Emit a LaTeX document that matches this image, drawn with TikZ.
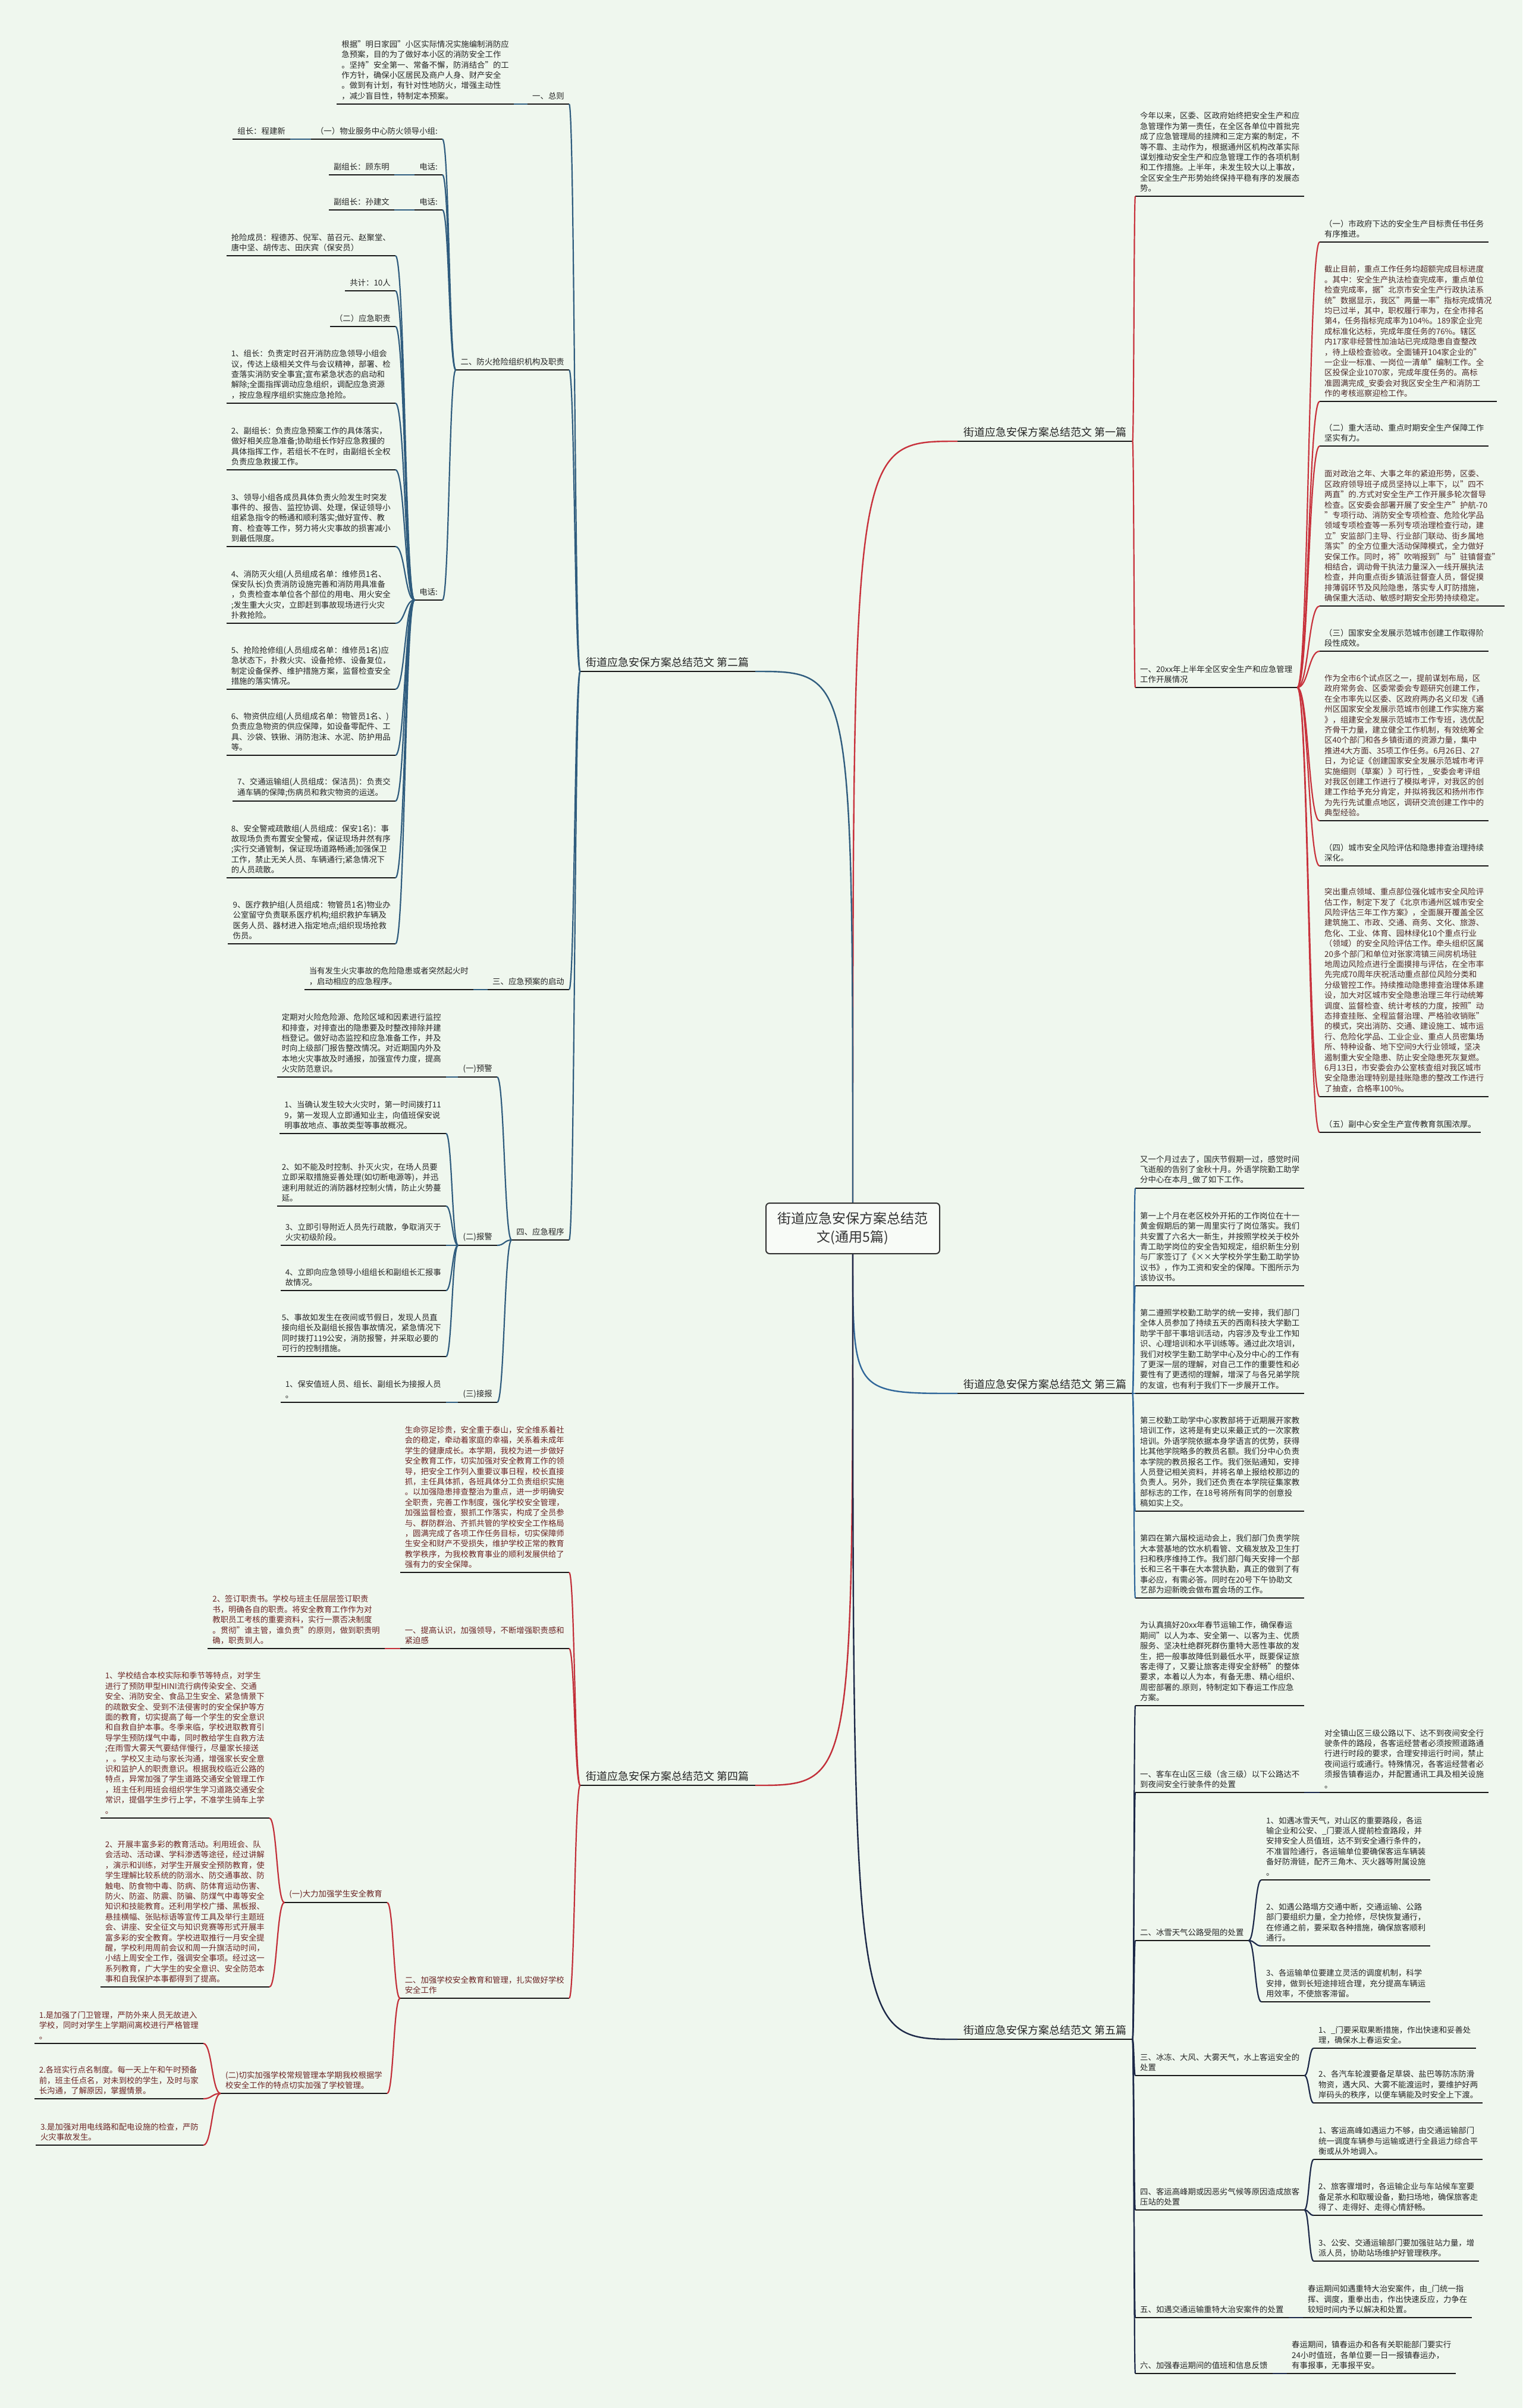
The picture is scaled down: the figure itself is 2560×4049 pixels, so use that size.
\documentclass[tikz,border=0pt]{standalone}
\usepackage{fontspec}
\setmainfont{Noto Sans CJK SC}
\usepackage{tikz}
\usepackage{xcolor}
\usetikzlibrary{calc}
\definecolor{paper}{HTML}{EFF7EE}
\definecolor{ink}{HTML}{262626}
\definecolor{maroon}{HTML}{6B2424}
\definecolor{brownish}{HTML}{4E2A2A}
\definecolor{lnkA}{HTML}{C8323C}
\definecolor{lnkB}{HTML}{2F5C7E}
\definecolor{lnkC}{HTML}{30679A}
\definecolor{lnkD}{HTML}{C22F39}
\definecolor{lnkE}{HTML}{1C2848}
\newcommand{\bodyFont}{\fontsize{13.4pt}{17.4pt}\selectfont}
\newcommand{\branchFont}{\fontsize{18pt}{22pt}\selectfont}
\newcommand{\rootFont}{\fontsize{23pt}{31pt}\selectfont}
\tikzset{
  underLine/.style = {draw=black!90, line width=2.6pt},
  leaf/.style = {font=\bodyFont, align=left, inner xsep=8pt, inner ysep=7pt, text=ink,
    append after command={(\tikzlastnode.south west) edge[underLine] (\tikzlastnode.south east)}},
  leafL/.style = {leaf, anchor=south east},
  leafR/.style = {leaf, anchor=south west},
  redText/.style = {text=maroon},
  brownText/.style = {text=brownish},
  branchL/.style = {leafL, font=\branchFont, inner xsep=10pt},
  branchR/.style = {leafR, font=\branchFont, inner xsep=10pt},
  rootBox/.style = {rectangle, rounded corners=6pt, draw=black!80, line width=2pt,
    fill=white!55!paper, minimum width=292pt, minimum height=85pt,
    align=center, font=\rootFont, text=black!80},
  curve/.style = {line width=2.2pt, line join=round,
    to path={let \p1=(\tikztostart), \p2=(\tikztotarget) in
      .. controls ({0.5*(\x1+\x2)},\y1) and ({0.5*(\x1+\x2)},\y2) .. (\tikztotarget)}},
  elbow/.style = {line width=2.4pt,
    to path={let \p1=(\tikztostart), \p2=(\tikztotarget) in
      .. controls (\x1,\y2) and (\x1,\y2) .. (\tikztotarget)}},
  linkA/.style = {curve, draw=lnkA},
  linkB/.style = {curve, draw=lnkB},
  linkC/.style = {curve, draw=lnkC},
  linkD/.style = {curve, draw=lnkD},
  linkE/.style = {curve, draw=lnkE},
}

\begin{document}
\begin{tikzpicture}[x=1pt, y=-1pt]
\fill[paper] (0,0) rectangle (2560,4049);
\useasboundingbox (0,0) rectangle (2560,4049);

% centre
\node[branchR] (b1) at (1610,742) {街道应急安保方案总结范文 第一篇};
\node[branchL] (b2) at (1270,1129) {街道应急安保方案总结范文 第二篇};
\node[branchR] (b3) at (1610,2343) {街道应急安保方案总结范文 第三篇};
\node[branchL] (b4) at (1270,3002) {街道应急安保方案总结范文 第四篇};
\node[branchR] (b5) at (1610,3429) {街道应急安保方案总结范文 第五篇};
\coordinate (rootTop) at (1434,2023);
\coordinate (rootBot) at (1434,2108);

\draw[elbow, draw=lnkA] (rootTop) to (b1.south west);
\draw[elbow, draw=lnkB] (rootTop) to (b2.south east);
\draw[elbow, draw=lnkC] (rootBot) to (b3.south west);
\draw[elbow, draw=lnkD] (rootBot) to (b4.south east);
\draw[elbow, draw=lnkE] (rootBot) to (b5.south west);
\node[rootBox] (root) at (1434,2065.5) {街道应急安保方案总结范\\文(通用5篇)};

% second article
\node[leafL] (t1) at (957,175) {一、总则};
\node[leafL] (t1a) at (864,175) {根据"明日家园"小区实际情况实施编制消防应\\急预案，目的为了做好本小区的消防安全工作\\。坚持"安全第一、常备不懈，防消结合"的工\\作方针，确保小区居民及商户人身、财产安全\\。做到有计划，有针对性地防火，增强主动性\\，减少盲目性，特制定本预案。};
\node[leafL] (t2) at (957,622) {二、防火抢险组织机构及职责};
\node[leafL] (t2a) at (744,234) {（一）物业服务中心防火领导小组:};
\node[leafL] (t2a1) at (488,234) {组长：程建新};
\node[leafL] (t2b) at (744,294) {电话:};
\node[leafL] (t2b1) at (663,294) {副组长：顾东明};
\node[leafL] (t2c) at (744,353) {电话:};
\node[leafL] (t2c1) at (663,353) {副组长：孙建文};
\node[leafL] (t2d) at (744,1009) {电话:};
\node[leafL] (m0) at (665,430) {抢险成员：程德苏、倪军、苗召元、赵聚堂、\\唐中坚、胡传志、田庆宾（保安员）};
\node[leafL] (m1) at (665,489) {共计：10人};
\node[leafL] (m2) at (665,549) {（二）应急职责};
\node[leafL] (m3) at (665,678) {1、组长：负责定时召开消防应急领导小组会\\议，传达上级相关文件与会议精神，部署、检\\查落实消防安全事宜;宣布紧急状态的启动和\\解除;全面指挥调动应急组织，调配应急资源\\，按应急程序组织实施应急抢险。};
\node[leafL] (m4) at (665,790) {2、副组长：负责应急预案工作的具体落实，\\做好相关应急准备;协助组长作好应急救援的\\具体指挥工作，若组长不在时，由副组长全权\\负责应急救援工作。};
\node[leafL] (m5) at (665,919) {3、领导小组各成员具体负责火险发生时突发\\事件的、报告、监控协调、处理，保证领导小\\组紧急指令的畅通和顺利落实;做好宣传、教\\育、检查等工作，努力将火灾事故的损害减小\\到最低限度。};
\node[leafL] (m6) at (665,1048) {4、消防灭火组(人员组成名单：维修员1名、\\保安队长)负责消防设施完善和消防用具准备\\，负责检查本单位各个部位的用电、用火安全\\;发生重大火灾，立即赶到事故现场进行火灾\\扑救抢险。};
\node[leafL] (m7) at (665,1159) {5、抢险抢修组(人员组成名单：维修员1名)应\\急状态下，扑救火灾、设备抢修、设备复位，\\制定设备保养、维护措施方案，监督检查安全\\措施的落实情况。};
\node[leafL] (m8) at (665,1270) {6、物资供应组(人员组成名单：物管员1名、)\\负责应急物资的供应保障，如设备零配件、工\\具、沙袋、铁锹、消防泡沫、水泥、防护用品\\等。};
\node[leafL] (m9) at (665,1347) {7、交通运输组(人员组成：保洁员)：负责交\\通车辆的保障;伤病员和救灾物资的运送。};
\node[leafL] (m10) at (665,1476) {8、安全警戒疏散组(人员组成：保安1名)：事\\故现场负责布置安全警戒，保证现场井然有序\\;实行交通管制，保证现场道路畅通;加强保卫\\工作，禁止无关人员、车辆通行;紧急情况下\\的人员疏散。};
\node[leafL] (m11) at (665,1587) {9、医疗救护组(人员组成：物管员1名)物业办\\公室留守负责联系医疗机构;组织救护车辆及\\医务人员、器材进入指定地点;组织现场抢救\\伤员。};
\node[leafL] (t3) at (957,1664) {三、应急预案的启动};
\node[leafL] (t3a) at (796,1664) {当有发生火灾事故的危险隐患或者突然起火时\\，启动相应的应急程序。};
\node[leafL] (t4) at (957,2085) {四、应急程序};
\node[leafL] (t4a) at (836,1811) {(一)预警};
\node[leafL] (t4a1) at (750,1811) {定期对火险危险源、危险区域和因素进行监控\\和排查，对排查出的隐患要及时整改排除并建\\档登记。做好动态监控和应急准备工作，并及\\时向上级部门报告整改情况。对近期国内外及\\本地火灾事故及时通报，加强宣传力度，提高\\火灾防范意识。};
\node[leafL] (t4b) at (836,2094) {(二)报警};
\node[leafL] (r1) at (750,1906) {1、当确认发生较大火灾时，第一时间拨打11\\9，第一发现人立即通知业主，向值班保安说\\明事故地点、事故类型等事故概况。};
\node[leafL] (r2) at (750,2028) {2、如不能及时控制、扑灭火灾，在场人员要\\立即采取措施妥善处理(如切断电源等)，并迅\\速利用就近的消防器材控制火情，防止火势蔓\\延。};
\node[leafL] (r3) at (750,2094) {3、立即引导附近人员先行疏散，争取消灭于\\火灾初级阶段。};
\node[leafL] (r4) at (750,2170) {4、立即向应急领导小组组长和副组长汇报事\\故情况。};
\node[leafL] (r5) at (750,2281) {5、事故如发生在夜间或节假日，发现人员直\\接向组长及副组长报告事故情况，紧急情况下\\同时拨打119公安，消防报警，并采取必要的\\可行的控制措施。};
\node[leafL] (t4c) at (836,2358) {(三)接报};
\node[leafL] (t4c1) at (750,2358) {1、保安值班人员、组长、副组长为接报人员\\。};

\draw[linkB] (b2.south west) to (t1.south east);
\draw[linkB] (b2.south west) to (t2.south east);
\draw[linkB] (b2.south west) to (t3.south east);
\draw[linkB] (b2.south west) to (t4.south east);
\draw[linkB] (t1.south west) to (t1a.south east);
\draw[linkB] (t2.south west) to (t2a.south east);
\draw[linkB] (t2.south west) to (t2b.south east);
\draw[linkB] (t2.south west) to (t2c.south east);
\draw[linkB] (t2.south west) to (t2d.south east);
\draw[linkB] (t2a.south west) to (t2a1.south east);
\draw[linkB] (t2b.south west) to (t2b1.south east);
\draw[linkB] (t2c.south west) to (t2c1.south east);
\foreach \kid in {m0,m1,m2,m3,m4,m5,m6,m7,m8,m9,m10,m11}
  \draw[linkB] (t2d.south west) to (\kid.south east);
\draw[linkB] (t3.south west) to (t3a.south east);
\draw[linkB] (t4.south west) to (t4a.south east);
\draw[linkB] (t4.south west) to (t4b.south east);
\draw[linkB] (t4.south west) to (t4c.south east);
\draw[linkB] (t4a.south west) to (t4a1.south east);
\foreach \kid in {r1,r2,r3,r4,r5}
  \draw[linkB] (t4b.south west) to (\kid.south east);
\draw[linkB] (t4c.south west) to (t4c1.south east);

% fourth article
\node[leafL, redText] (d0) at (957,2644) {生命弥足珍贵，安全重于泰山，安全维系着社\\会的稳定，牵动着家庭的幸福，关系着未成年\\学生的健康成长。本学期，我校为进一步做好\\安全教育工作，切实加强对安全教育工作的领\\导，把安全工作列入重要议事日程，校长直接\\抓，主任具体抓，各班具体分工负责组织实施\\。以加强隐患排查整治为重点，进一步明确安\\全职责，完善工作制度，强化学校安全管理，\\加强监督检查，狠抓工作落实，构成了全员参\\与、群防群治、齐抓共管的学校安全工作格局\\，圆满完成了各项工作任务目标，切实保障师\\生安全和财产不受损失，维护学校正常的教育\\教学秩序，为我校教育事业的顺利发展供给了\\强有力的安全保障。};
\node[leafL, redText] (d1) at (957,2772) {一、提高认识，加强领导，不断增强职责感和\\紧迫感};
\node[leafL, redText] (d1a) at (647,2772) {2、签订职责书。学校与班主任层层签订职责\\书，明确各自的职责。将安全教育工作作为对\\教职员工考核的重要资料，实行一票否决制度\\。贯彻"谁主管，谁负责"的原则，做到职责明\\确，职责到人。};
\node[leafL, redText] (d2) at (957,3360) {二、加强学校安全教育和管理，扎实做好学校\\安全工作};
\node[leafL, redText] (d2a) at (651,3199) {(一)大力加强学生安全教育};
\node[leafL, redText] (d2a1) at (453,3057) {1、学校结合本校实际和季节等特点，对学生\\进行了预防甲型HINI流行病传染安全、交通\\安全、消防安全、食品卫生安全、紧急情景下\\的疏散安全、受到不法侵害时的安全保护等方\\面的教育，切实提高了每一个学生的安全意识\\和自救自护本事。冬季来临，学校进取教育引\\导学生预防煤气中毒，同时教给学生自救方法\\;在雨雪大雾天气要结伴慢行，尽量家长接送\\，。学校又主动与家长沟通，增强家长安全意\\识和监护人的职责意识。根据我校临近公路的\\特点，异常加强了学生道路交通安全管理工作\\，班主任利用班会组织学生学习道路交通安全\\常识，提倡学生步行上学，不准学生骑车上学\\。};
\node[leafL, redText] (d2a2) at (453,3341) {2、开展丰富多彩的教育活动。利用班会、队\\会活动、活动课、学科渗透等途径，经过讲解\\，演示和训练，对学生开展安全预防教育，使\\学生理解比较系统的防溺水、防交通事故、防\\触电、防食物中毒、防病、防体育运动伤害、\\防火、防盗、防震、防骗、防煤气中毒等安全\\知识和技能教育。还利用学校广播、黑板报、\\悬挂横幅、张贴标语等宣传工具及举行主题班\\会、讲座、安全征文与知识竞赛等形式开展丰\\富多彩的安全教育。学校进取推行一月安全提\\醒，学校利用周前会议和周一升旗活动时间，\\小结上周安全工作，强调安全事项。经过这一\\系列教育，广大学生的安全意识、安全防范本\\事和自我保护本事都得到了提高。};
\node[leafL, redText] (d2b) at (651,3520) {(二)切实加强学校常规管理本学期我校根据学\\校安全工作的特点切实加强了学校管理。};
\node[leafL, redText] (d2b1) at (342,3436) {1.是加强了门卫管理，严防外来人员无故进入\\学校，同时对学生上学期间离校进行严格管理\\。};
\node[leafL, redText] (d2b2) at (342,3529) {2.各班实行点名制度。每一天上午和午时预备\\前，班主任点名，对未到校的学生，及时与家\\长沟通，了解原因，掌握情景。};
\node[leafL, redText] (d2b3) at (342,3607) {3.是加强对用电线路和配电设施的检查，严防\\火灾事故发生。};

\draw[linkD] (b4.south west) to (d0.south east);
\draw[linkD] (b4.south west) to (d1.south east);
\draw[linkD] (b4.south west) to (d2.south east);
\draw[linkD] (d1.south west) to (d1a.south east);
\draw[linkD] (d2.south west) to (d2a.south east);
\draw[linkD] (d2.south west) to (d2b.south east);
\draw[linkD] (d2a.south west) to (d2a1.south east);
\draw[linkD] (d2a.south west) to (d2a2.south east);
\foreach \kid in {d2b1,d2b2,d2b3}
  \draw[linkD] (d2b.south west) to (\kid.south east);

% first article
\node[leafR] (a0) at (1909,330) {今年以来，区委、区政府始终把安全生产和应\\急管理作为第一责任，在全区各单位中首批完\\成了应急管理局的挂牌和三定方案的制定，不\\等不靠、主动作为，根据通州区机构改革实际\\谋划推动安全生产和应急管理工作的各项机制\\和工作措施。上半年，未发生较大以上事故，\\全区安全生产形势始终保持平稳有序的发展态\\势。};
\node[leafR] (a1) at (1909,1156) {一、20xx年上半年全区安全生产和应急管理\\工作开展情况};
\node[leafR] (p1) at (2219,407) {（一）市政府下达的安全生产目标责任书任务\\有序推进。};
\node[leafR, brownText] (p2) at (2219,675) {截止目前，重点工作任务均超额完成目标进度\\。其中：安全生产执法检查完成率，重点单位\\检查完成率，据"北京市安全生产行政执法系\\统"数据显示，我区"两量一率"指标完成情况\\均已过半，其中，职权履行率为，在全市排名\\第4，任务指标完成率为104\%。189家企业完\\成标准化达标，完成年度任务的76\%。辖区\\内17家非经营性加油站已完成隐患自查整改\\，待上级检查验收。全面铺开104家企业的"\\一企业一标准、一岗位一清单"编制工作。全\\区投保企业1070家，完成年度任务的。高标\\准圆满完成\_安委会对我区安全生产和消防工\\作的考核巡察迎检工作。};
\node[leafR] (p3) at (2219,750) {（二）重大活动、重点时期安全生产保障工作\\坚实有力。};
\node[leafR, brownText] (p4) at (2219,1019) {面对政治之年、大事之年的紧迫形势，区委、\\区政府领导班子成员坚持以上率下，以"四不\\两直"的.方式对安全生产工作开展多轮次督导\\检查。区安委会部署开展了安全生产"护航-70\\"专项行动、消防安全专项检查、危险化学品\\领域专项检查等一系列专项治理检查行动，建\\立"安监部门主导、行业部门联动、街乡属地\\落实"的全方位重大活动保障模式，全力做好\\安保工作。同时，将"吹哨报到"与"驻镇督查"\\相结合，调动骨干执法力量深入一线开展执法\\检查，并向重点街乡镇派驻督查人员，督促摸\\排薄弱环节及风险隐患，落实专人盯防措施，\\确保重大活动、敏感时期安全形势持续稳定。};
\node[leafR] (p5) at (2219,1095) {（三）国家安全发展示范城市创建工作取得阶\\段性成效。};
\node[leafR, brownText] (p6) at (2219,1380) {作为全市6个试点区之一，提前谋划布局，区\\政府常务会、区委常委会专题研究创建工作，\\在全市率先以区委、区政府两办名义印发《通\\州区国家安全发展示范城市创建工作实施方案\\》，组建安全发展示范城市工作专班，选优配\\齐骨干力量，建立健全工作机制，有效统筹全\\区40个部门和各乡镇街道的资源力量，集中\\推进4大方面、35项工作任务。6月26日、27\\日，为论证《创建国家安全发展示范城市考评\\实施细则（草案）》可行性，\_安委会考评组\\对我区创建工作进行了模拟考评，对我区的创\\建工作给予充分肯定，并拟将我区和扬州市作\\为先行先试重点地区，调研交流创建工作中的\\典型经验。};
\node[leafR] (p7) at (2219,1456) {（四）城市安全风险评估和隐患排查治理持续\\深化。};
\node[leafR, brownText] (p8) at (2219,1844) {突出重点领域、重点部位强化城市安全风险评\\估工作，制定下发了《北京市通州区城市安全\\风险评估三年工作方案》，全面展开覆盖全区\\建筑施工、市政、交通、商务、文化、旅游、\\危化、工业、体育、园林绿化10个重点行业\\（领域）的安全风险评估工作。牵头组织区属\\20多个部门和单位对张家湾镇三间房机场驻\\地周边风险点进行全面摸排与评估，在全市率\\先完成70周年庆祝活动重点部位风险分类和\\分级管控工作。持续推动隐患排查治理体系建\\设，加大对区城市安全隐患治理三年行动统筹\\调度、监督检查、统计考核的力度，按照"动\\态排查挂账、全程监督治理、严格验收销账"\\的模式，突出消防、交通、建设施工、城市运\\行、危险化学品、工业企业、重点人员密集场\\所、特种设备、地下空间9大行业领域，坚决\\遏制重大安全隐患、防止安全隐患死灰复燃。\\6月13日，市安委会办公室核查组对我区城市\\安全隐患治理特别是挂账隐患的整改工作进行\\了抽查，合格率100\%。};
\node[leafR] (p9) at (2219,1904) {（五）副中心安全生产宣传教育氛围浓厚。};

\draw[linkA] (b1.south east) to (a0.south west);
\draw[linkA] (b1.south east) to (a1.south west);
\foreach \kid in {p1,p2,p3,p4,p5,p6,p7,p8,p9}
  \draw[linkA] (a1.south east) to (\kid.south west);

% third article
\node[leafR] (c0) at (1909,1998) {又一个月过去了，国庆节假期一过，感觉时间\\飞逝般的告别了金秋十月。外语学院勤工助学\\分中心在本月\_做了如下工作。};
\node[leafR] (c1) at (1909,2162) {第一上个月在老区校外开拓的工作岗位在十一\\黄金假期后的第一周里实行了岗位落实。我们\\共安置了六名大一新生，并按照学校关于校外\\青工助学岗位的安全告知规定，组织新生分别\\与厂家签订了《××大学校外学生勤工助学协\\议书》，作为工资和安全的保障。下图所示为\\该协议书。};
\node[leafR] (c2) at (1909,2343) {第二遵照学校勤工助学的统一安排，我们部门\\全体人员参加了持续五天的西南科技大学勤工\\助学干部干事培训活动，内容涉及专业工作知\\识、心理培训和水平训练等。通过此次培训，\\我们对校学生勤工助学中心及分中心的工作有\\了更深一层的理解，对自己工作的重要性和必\\要性有了更透彻的理解，增深了与各兄弟学院\\的友谊，也有利于我们下一步展开工作。};
\node[leafR] (c3) at (1909,2541) {第三校勤工助学中心家教部将于近期展开家教\\培训工作，这将是有史以来最正式的一次家教\\培训。外语学院依据本身学语言的优势，获得\\比其他学院略多的教员名额。我们分中心负责\\本学院的教员报名工作。我们张贴通知，安排\\人员登记相关资料，并将名单上报给校那边的\\负责人。另外，我们还负责在本学院征集家教\\部标志的工作，在18号将所有同学的创意投\\稿如实上交。};
\node[leafR] (c4) at (1909,2687) {第四在第六届校运动会上，我们部门负责学院\\大本营基地的饮水机看管、文稿发放及卫生打\\扫和秩序维持工作。我们部门每天安排一个部\\长和三名干事在大本营执勤，真正的做到了有\\事必应，有需必答。同时在20号下午协助文\\艺部为迎新晚会做布置会场的工作。};

\foreach \kid in {c0,c1,c2,c3,c4}
  \draw[linkC] (b3.south east) to (\kid.south west);

% fifth article
\node[leafR] (e0) at (1909,2868) {为认真搞好20xx年春节运输工作，确保春运\\期间"以人为本、安全第一、以客为主、优质\\服务、坚决杜绝群死群伤重特大恶性事故的发\\生，把一般事故降低到最低水平，既要保证旅\\客走得了，又要让旅客走得安全舒畅"的整体\\要求，本着以人为本，有备无患、精心组织、\\周密部署的.原则，特制定如下春运工作应急\\方案。};
\node[leafR] (e1) at (1909,3014) {一、客车在山区三级（含三级）以下公路达不\\到夜间安全行驶条件的处置};
\node[leafR] (e1a) at (2219,3014) {对全镇山区三级公路以下、达不到夜间安全行\\驶条件的路段，各客运经营者必须按照道路通\\行进行时段的要求，合理安排运行时间，禁止\\夜间运行或通行。特殊情况，各客运经营者必\\须报告镇春运办，并配置通讯工具及相关设施\\。};
\node[leafR] (e2) at (1909,3263) {二、冰雪天气公路受阻的处置};
\node[leafR] (e2a) at (2121,3161) {1、如遇冰雪天气，对山区的重要路段，各运\\输企业和公安、\_门要派人提前检查路段，并\\安排安全人员值班，达不到安全通行条件的，\\不准冒险通行，各运输单位要确保客运车辆装\\备好防滑链，配齐三角木、灭火器等附属设施\\。};
\node[leafR] (e2b) at (2121,3272) {2、如遇公路塌方交通中断，交通运输、公路\\部门要组织力量，全力抢修，尽快恢复通行，\\在修通之前，要采取各种措施，确保旅客顺利\\通行。};
\node[leafR] (e2c) at (2121,3366) {3、各运输单位要建立灵活的调度机制，科学\\安排，做到长短途排班合理，充分提高车辆运\\用效率，不使旅客滞留。};
\node[leafR] (e3) at (1909,3490) {三、冰冻、大风、大雾天气，水上客运安全的\\处置};
\node[leafR] (e3a) at (2209,3444) {1、\_门要采取果断措施，作出快速和妥善处\\理，确保水上春运安全。};
\node[leafR] (e3b) at (2209,3536) {2、各汽车轮渡要备足草袋、盐巴等防冻防滑\\物资，遇大风、大雾不能渡运时，要维护好两\\岸码头的秩序，以便车辆能及时安全上下渡。};
\node[leafR] (e4) at (1909,3716) {四、客运高峰期或因恶劣气候等原因造成旅客\\压站的处置};
\node[leafR] (e4a) at (2209,3631) {1、客运高峰如遇运力不够，由交通运输部门\\统一调度车辆参与运输或进行全县运力综合平\\衡或从外地调入。};
\node[leafR] (e4b) at (2209,3725) {2、旅客骤增时，各运输企业与车站候车室要\\备足茶水和取暖设备，勤扫场地，确保旅客走\\得了、走得好、走得心情舒畅。};
\node[leafR] (e4c) at (2209,3802) {3、公安、交通运输部门要加强驻站力量，增\\派人员，协助站场维护好管理秩序。};
\node[leafR] (e5) at (1909,3897) {五、如遇交通运输重特大治安案件的处置};
\node[leafR] (e5a) at (2191,3897) {春运期间如遇重特大治安案件，由\_门统一指\\挥、调度，重拳出击，作出快速反应，力争在\\较短时间内予以解决和处置。};
\node[leafR] (e6) at (1909,3991) {六、加强春运期间的值班和信息反馈};
\node[leafR] (e6a) at (2164,3991) {春运期间，镇春运办和各有关职能部门要实行\\24小时值班，各单位要一日一报镇春运办，\\有事报事，无事报平安。};

\foreach \kid in {e0,e1,e2,e3,e4,e5,e6}
  \draw[linkE] (b5.south east) to (\kid.south west);
\draw[linkE] (e1.south east) to (e1a.south west);
\foreach \kid in {e2a,e2b,e2c}
  \draw[linkE] (e2.south east) to (\kid.south west);
\foreach \kid in {e3a,e3b}
  \draw[linkE] (e3.south east) to (\kid.south west);
\foreach \kid in {e4a,e4b,e4c}
  \draw[linkE] (e4.south east) to (\kid.south west);
\draw[linkE] (e5.south east) to (e5a.south west);
\draw[linkE] (e6.south east) to (e6a.south west);

\end{tikzpicture}
\end{document}
